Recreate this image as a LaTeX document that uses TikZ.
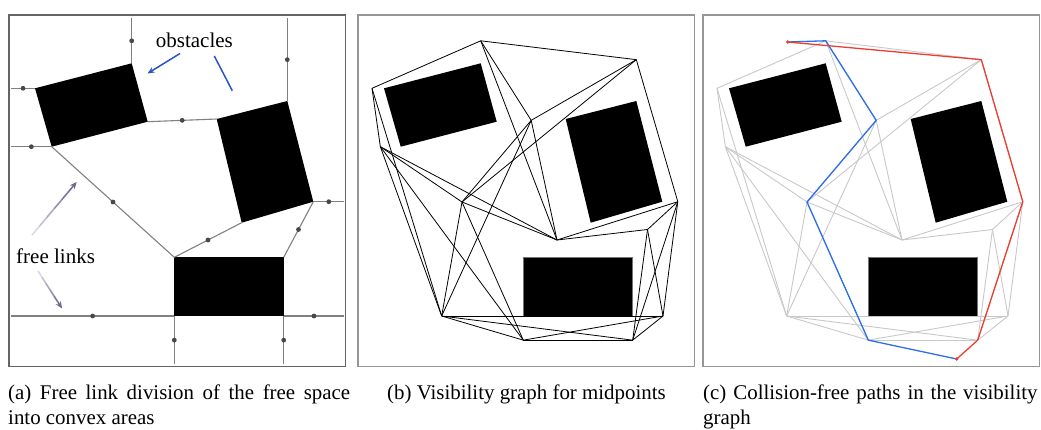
\documentclass[tikz,border=0pt]{standalone}
\usepackage{fontspec}
\setmainfont{Liberation Serif}
\usetikzlibrary{calc,arrows.meta}

\definecolor{linkgray}{RGB}{128,128,128}
\definecolor{dotgray}{RGB}{72,72,72}
\definecolor{frameA}{RGB}{100,100,100}
\definecolor{frameB}{RGB}{150,150,150}
\definecolor{edgegray}{RGB}{200,200,200}
\definecolor{pathblue}{RGB}{45,110,235}
\definecolor{pathred}{RGB}{235,62,48}
\definecolor{noteblue}{RGB}{40,85,195}
\definecolor{notepurple}{RGB}{112,102,148}

\newcommand\capfont{\fontsize{20.9}{25.5}\selectfont}
\newcommand\notefont{\fontsize{21}{25}\selectfont}

\tikzset{
  panelframeA/.style={draw=frameA, line width=1.4pt},
  panelframe/.style={draw=frameB, line width=1.2pt},
  obstacle/.style={fill=black},
  freelink/.style={draw=linkgray, line width=1.1pt},
  middot/.style={fill=dotgray},
  visedge/.style={draw=black, line width=0.8pt},
  greyedge/.style={draw=edgegray, line width=0.9pt},
  bluepath/.style={draw=pathblue, line width=1.3pt, line join=round},
  redpath/.style={draw=pathred, line width=1.3pt, line join=round},
  notearrow/.style={line width=1.5pt, -{Stealth[length=7pt,width=6pt]}},
  caption/.style={font=\capfont, inner sep=0pt},
}

% corners of the three obstacles, border ends of the free links
% and the midpoints of the free links, all with a name prefix
\newcommand\scene[1]{%
  \coordinate (#1o1a) at (35,88.3);
  \coordinate (#1o1b) at (131.7,63.3);
  \coordinate (#1o1c) at (147.7,121.7);
  \coordinate (#1o1d) at (51.7,146.7);
  \coordinate (#1o2a) at (216.7,119);
  \coordinate (#1o2b) at (287.3,101);
  \coordinate (#1o2c) at (313.3,201.7);
  \coordinate (#1o2d) at (241.7,222.7);
  \coordinate (#1o3a) at (174.3,257.3);
  \coordinate (#1o3b) at (283.7,257.3);
  \coordinate (#1o3c) at (283.7,316);
  \coordinate (#1o3d) at (174.3,316);
  \coordinate (#1tA) at (131.7,18.3);
  \coordinate (#1tB) at (287.3,18.3);
  \coordinate (#1tC) at (11,88.3);
  \coordinate (#1tD) at (11,146.7);
  \coordinate (#1tI) at (344.3,201.7);
  \coordinate (#1tJ) at (11,316);
  \coordinate (#1tK) at (344.3,316);
  \coordinate (#1tL) at (174.3,364.3);
  \coordinate (#1tM) at (283.7,364.3);
  \coordinate (#1A) at ($(#1o1b)!.5!(#1tA)$);
  \coordinate (#1B) at ($(#1o2b)!.5!(#1tB)$);
  \coordinate (#1C) at ($(#1tC)!.5!(#1o1a)$);
  \coordinate (#1D) at ($(#1tD)!.5!(#1o1d)$);
  \coordinate (#1E) at ($(#1o1c)!.5!(#1o2a)$);
  \coordinate (#1F) at ($(#1o1d)!.5!(#1o3a)$);
  \coordinate (#1G) at ($(#1o3a)!.5!(#1o2d)$);
  \coordinate (#1H) at ($(#1o3b)!.5!(#1o2c)$);
  \coordinate (#1I) at ($(#1o2c)!.5!(#1tI)$);
  \coordinate (#1J) at ($(#1tJ)!.5!(#1o3d)$);
  \coordinate (#1K) at ($(#1o3c)!.5!(#1tK)$);
  \coordinate (#1L) at ($(#1o3d)!.5!(#1tL)$);
  \coordinate (#1M) at ($(#1o3c)!.5!(#1tM)$);
}

\newcommand\obstacles[2]{%
  \path[obstacle] (#1o1a) -- (#1o1b) -- (#1o1c) -- (#1o1d) -- cycle;
  \path[obstacle] (#1o2a) -- (#1o2b) -- (#1o2c) -- (#1o2d) -- cycle;
  \path[obstacle, #2] (#1o3a) -- (#1o3b) -- (#1o3c) -- (#1o3d) -- cycle;
}

% visibility graph between the midpoints of the free links
\newcommand\visgraph[2]{%
  \foreach \u/\v in {A/B, A/C, A/E, A/G, B/E, B/F, B/I, C/D, C/J,
                     D/F, D/G, D/J, D/L, E/F, E/G, E/J, F/G, F/J, F/L,
                     G/H, G/I, H/I, H/K, H/M, I/K, I/M, J/K, J/L, J/M,
                     K/L, K/M, L/M}
    \draw[#2] (#1\u) -- (#1\v);
}

% an annotation arrow that fades out towards its start
\newcommand\fadearrow[3]{%
  \foreach \k in {0,...,4}{
    \pgfmathsetmacro\fa{\k/6}
    \pgfmathsetmacro\fb{(\k+1)/6}
    \pgfmathsetmacro\op{0.25+0.16*\k}
    \draw[#1, line width=1.6pt, draw opacity=\op]
      ($(#2)!\fa!(#3)$) -- ($(#2)!\fb!(#3)$);
  }
  \draw[#1, notearrow] ($(#2)!0.8333!(#3)$) -- (#3);
}

\begin{document}
\begin{tikzpicture}[x=1pt, y=-1pt]
\useasboundingbox (0,0) rectangle (1041,429);

% ---------- (a) free links ----------
\begin{scope}
  \scene{a}
  \obstacles{a}{}
  \foreach \p/\q in {o1b/tA, o2b/tB, tC/o1a, tD/o1d, o1c/o2a, o1d/o3a,
                     o3a/o2d, o3b/o2c, o2c/tI, tJ/o3d, o3c/tK, o3d/tL, o3c/tM}
    \draw[freelink] (a\p) -- (a\q);
  \foreach \m in {A,B,C,D,E,F,G,H,I,J,K,L,M}
    \fill[middot] (a\m) circle[radius=2.4pt];
  \draw[panelframeA] (9,15) rectangle (345.3,366.3);

  \node[font=\notefont, inner sep=0pt, anchor=base west] (obstxt) at (155.7,47.3) {obstacles};
  \coordinate (ob1s) at (180,53.5);
  \coordinate (ob1e) at (147.5,73.5);
  \coordinate (ob2s) at (214.3,56);
  \coordinate (ob2e) at (232.3,90.7);
  \draw[noteblue, notearrow] (ob1s) -- (ob1e);
  \draw[noteblue, line width=1.5pt] (ob2s) -- (ob2e);

  \node[font=\notefont, inner sep=0pt, anchor=base west] (linktxt) at (16,263.3) {free links};
  \coordinate (fl1s) at (32,235);
  \coordinate (fl1e) at (76.7,182);
  \coordinate (fl2s) at (38,271);
  \coordinate (fl2e) at (62,308.5);
  \fadearrow{notepurple}{fl1s}{fl1e}
  \fadearrow{notepurple}{fl2s}{fl2e}
\end{scope}

% ---------- (b) visibility graph ----------
\begin{scope}[xshift=349pt]
  \scene{b}
  \obstacles{b}{draw=black!55, line width=0.7pt}
  \visgraph{b}{visedge}
  \draw[panelframe] (9,15) rectangle (345.8,366.8);
\end{scope}

% ---------- (c) collision-free paths ----------
\begin{scope}[xshift=694pt]
  \scene{c}
  \obstacles{c}{draw=black!55, line width=0.7pt}
  \visgraph{c}{greyedge}
  \coordinate (cS) at (93.7,42);
  \coordinate (cT) at (262.7,359);
  \draw[bluepath] (cS) -- (cA) -- (cE) -- (cF) -- (cL) -- (cT);
  \draw[redpath] (cS) -- (cB) -- (cI) -- (cM) -- (cT);
  \fill[pathred] (cS) circle[radius=1.8pt];
  \fill[pathred] (cT) circle[radius=1.8pt];
  \draw[panelframe] (9,15) rectangle (345.8,366.8);
\end{scope}

% ---------- captions ----------
\node[caption, anchor=base west, text width=342pt, align=justify] (capa) at (8,399)
  {\hyphenpenalty=10000 (a) Free link division of the free space into convex areas};
\node[caption, anchor=base] (capb) at (526.5,399) {(b) Visibility graph for midpoints};
\node[caption, anchor=base west, text width=338pt, align=left] (capc) at (703,399)
  {\hyphenpenalty=10000 (c) Collision-free paths in the visibility\\graph};
\end{tikzpicture}
\end{document}
